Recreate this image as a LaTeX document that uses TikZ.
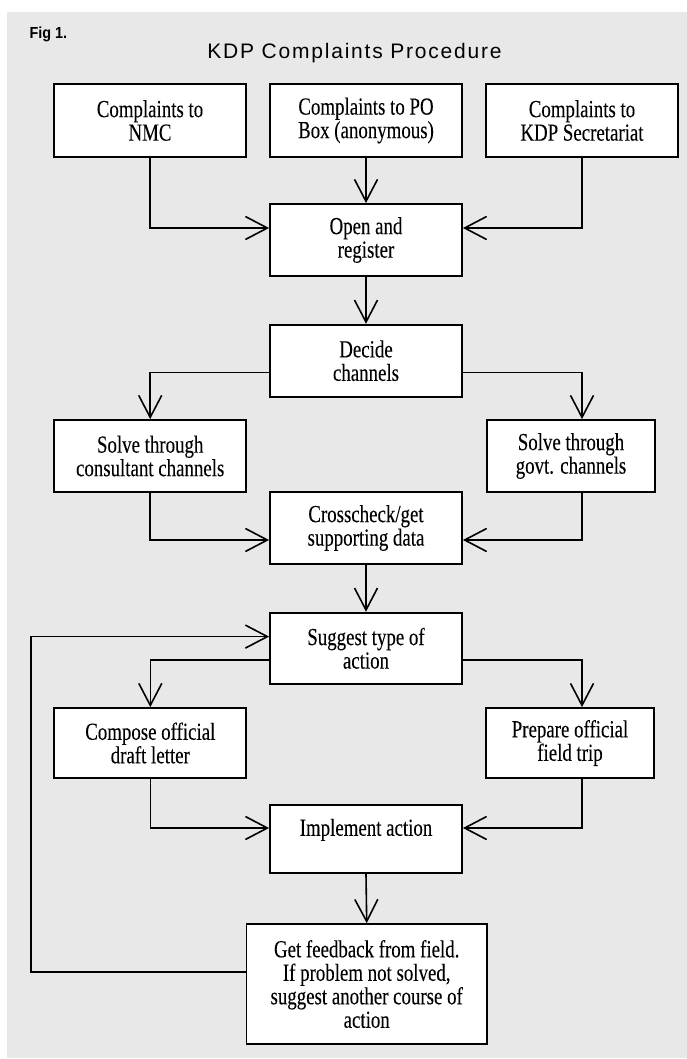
\documentclass[tikz,border=0pt]{standalone}
\usepackage{fontspec}
\usetikzlibrary{arrows.meta}
\newfontfamily\boxfont{Liberation Serif}[FakeStretch=0.77,FakeBold=0.08]
\newfontfamily\ttlfont{Liberation Sans}[LetterSpace=8.5]
\newfontfamily\figfont{Liberation Sans}[FakeStretch=0.9]
\definecolor{bggray}{RGB}{232,232,232}
\begin{document}
\begin{tikzpicture}[x=1pt,y=-1pt,
  box/.style={draw=black, line width=1.8pt, fill=white, rectangle, inner sep=0pt,
    align=center, font=\boxfont\fontsize{24.5}{23.5}\selectfont},
  wide/.style={minimum width=192pt},
  narrow/.style={minimum width=168pt},
  conn/.style={draw=black, line width=1.6pt, -{Straight Barb[length=22pt,width=23pt,line width=1.6pt]}}
]
\useasboundingbox (0,0) rectangle (687,1059);
\fill[bggray] (7,12) rectangle (687,1058);

\node[anchor=base west, font=\figfont\bfseries\fontsize{16}{16}\selectfont] (fig) at (26,38.3) {Fig 1.};
\node[anchor=base, font=\ttlfont\fontsize{21}{21}\selectfont] (title) at (354.5,58.3) {KDP Complaints Procedure};

\node[box, wide, minimum height=73pt] (c1) at (150,120.5) {Complaints to\\NMC};
\node[box, wide, minimum height=73pt] (c2) at (366,120.5) {Complaints to PO\\Box (anonymous)};
\node[box, wide, minimum height=73pt] (c3) at (582,120.5) {Complaints to\\KDP Secretariat};
\node[box, wide, minimum height=72pt] (reg) at (366,240) {Open and\\register};
\node[box, wide, minimum height=72pt] (dec) at (366,360.7) {Decide\\channels};
\node[box, wide, minimum height=72pt] (cons) at (150.2,456) {Solve through\\consultant channels};
\node[box, narrow, minimum height=72pt] (govt) at (571,456) {Solve through\\govt. channels};
\node[box, wide, minimum height=72pt] (cross) at (366,528) {Crosscheck/get\\supporting data};
\node[box, wide, minimum height=71.3pt] (sug) at (366,648.3) {Suggest type of\\action};
\node[box, wide, minimum height=70pt] (comp) at (150.3,743) {Compose official\\draft letter};
\node[box, narrow, minimum height=70pt] (prep) at (570,743) {Prepare official\\field trip};
\node[box, wide, minimum height=68pt] (impl) at (366,839) {Implement action\\\mbox{}};
\node[box, minimum width=240.5pt, minimum height=120pt] (fb) at (366.7,984) {Get feedback from field.\\If problem not solved,\\suggest another course of\\action};

\coordinate (loopcorner) at (30.7,972);

\draw[conn] (c1.south) |- ([yshift=12pt]reg.west);
\draw[conn] (c2.south) -- (reg.north);
\draw[conn] (c3.south) |- ([yshift=12pt]reg.east);
\draw[conn] (reg.south) -- (dec.north);
\draw[conn] ([yshift=-11.6pt]dec.west) -| (cons.north);
\draw[conn] ([yshift=-11.6pt]dec.east) -| (govt.north -| c3.south);
\draw[conn] (cons.south) |- ([yshift=-12pt]cross.west);
\draw[conn] (govt.south -| c3.south) |- ([yshift=-12pt]cross.east);
\draw[conn] (cross.south) -- (sug.north);
\draw[conn] ([yshift=-11.7pt]sug.west) -| (comp.north);
\draw[conn] ([yshift=-11.7pt]sug.east) -| (prep.north -| c3.south);
\draw[conn] (comp.south) |- ([yshift=11pt]impl.west);
\draw[conn] (prep.south -| c3.south) |- ([yshift=11pt]impl.east);
\draw[conn] (impl.south) -- (fb.north);
\draw[conn] ([yshift=12pt]fb.west) -- (loopcorner) |- ([yshift=11.7pt]sug.west);
\end{tikzpicture}
\end{document}
